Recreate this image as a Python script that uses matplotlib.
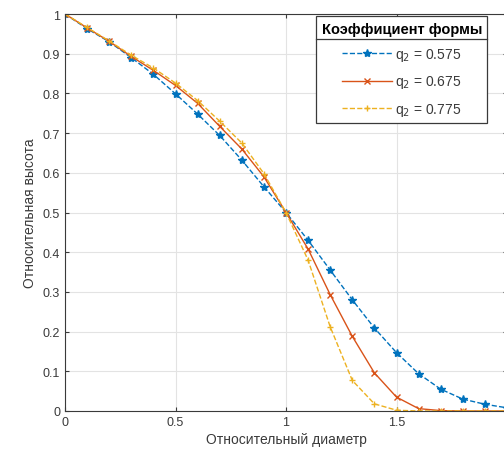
import matplotlib
matplotlib.use("Agg")
import matplotlib.pyplot as plt
from matplotlib.lines import Line2D

plt.rcParams['font.family'] = ['Liberation Sans', 'DejaVu Sans']

x = [0.0, 0.1, 0.2, 0.3, 0.4, 0.5, 0.6, 0.7, 0.8, 0.9, 1.0,
     1.1, 1.2, 1.3, 1.4, 1.5, 1.6, 1.7, 1.8, 1.9, 2.0]
h_575 = [1.0, 0.963, 0.93, 0.89, 0.848, 0.799, 0.748, 0.694, 0.632, 0.565, 0.5,
         0.43, 0.355, 0.28, 0.209, 0.147, 0.094, 0.055, 0.03, 0.017, 0.008]
h_675 = [1.0, 0.965, 0.931, 0.893, 0.858, 0.82, 0.775, 0.717, 0.66, 0.59, 0.5,
         0.408, 0.293, 0.188, 0.096, 0.035, 0.006, 0.001, 0.0, 0.0, 0.0]
h_775 = [1.0, 0.966, 0.932, 0.896, 0.864, 0.826, 0.782, 0.73, 0.675, 0.598, 0.5,
         0.38, 0.212, 0.077, 0.018, 0.002, 0.0, 0.0, 0.0, 0.0, 0.0]
labels = ['q$_2$ = 0.575', 'q$_2$ = 0.675', 'q$_2$ = 0.775']
legend_title = 'Коэффициент формы'
x_label = 'Относительный диаметр'
y_label = 'Относительная высота'
x_ticks = [0, 0.5, 1, 1.5]
x_tick_labels = ['0', '0.5', '1', '1.5']
y_ticks = [0, 0.1, 0.2, 0.3, 0.4, 0.5, 0.6, 0.7, 0.8, 0.9, 1]
y_tick_labels = ['0', '0.1', '0.2', '0.3', '0.4', '0.5', '0.6', '0.7', '0.8', '0.9', '1']

blue = (0.0, 0.447, 0.741)
orange = (0.85, 0.325, 0.098)
yellow = (0.929, 0.694, 0.125)
ink = '#3a3a3a'

fig = plt.figure(figsize=(5.04, 4.60), dpi=100)
ax = fig.add_axes([65 / 504, 48 / 460, 442 / 504, 397 / 460])

ax.plot(x, h_575, '--', color=blue, lw=1.0, marker='*', ms=6, label=labels[0])
ax.plot(x, h_675, '-', color=orange, lw=1.0, marker='x', ms=4, label=labels[1])
ax.plot(x, h_775, '--', color=yellow, lw=1.0, marker='+', ms=5, label=labels[2])

ax.set_xlim(0, 2)
ax.set_ylim(0, 1)
ax.set_xticks(x_ticks)
ax.set_xticklabels(x_tick_labels)
ax.set_yticks(y_ticks)
ax.set_yticklabels(y_tick_labels)
ax.grid(True, color='#e3e3e3', lw=0.8)
ax.set_axisbelow(True)
ax.tick_params(direction='in', length=3, colors=ink, labelcolor=ink,
               labelsize=9, top=True, right=True)
for s in ax.spines.values():
    s.set_color(ink)
    s.set_linewidth(0.8)
ax.set_xlabel(x_label, fontsize=10, color=ink, labelpad=3)
ax.set_ylabel(y_label, fontsize=10, color=ink, labelpad=4)

leg = ax.legend(title=legend_title, loc='upper left',
                bbox_to_anchor=(316 / 504, 443 / 460), bbox_transform=fig.transFigure,
                fontsize=10, title_fontproperties={'weight': 'bold', 'size': 10.5},
                fancybox=False, framealpha=1, edgecolor=ink,
                handlelength=3.6, borderpad=0.4, labelspacing=0.75,
                handletextpad=0.25, borderaxespad=0)
leg.get_frame().set_linewidth(0.9)
for t in leg.get_texts():
    t.set_color(ink)

# separator line below the legend title
fig.canvas.draw()
r = fig.canvas.get_renderer()
fb = leg.get_frame().get_window_extent(r)
tb = leg.get_title().get_window_extent(r)
yline = tb.y0 - 3
fig.add_artist(Line2D([fb.x0 / 504, fb.x1 / 504], [yline / 460, yline / 460],
                      transform=fig.transFigure, color=ink, lw=0.9))

fig.savefig('out.png', dpi=100)
